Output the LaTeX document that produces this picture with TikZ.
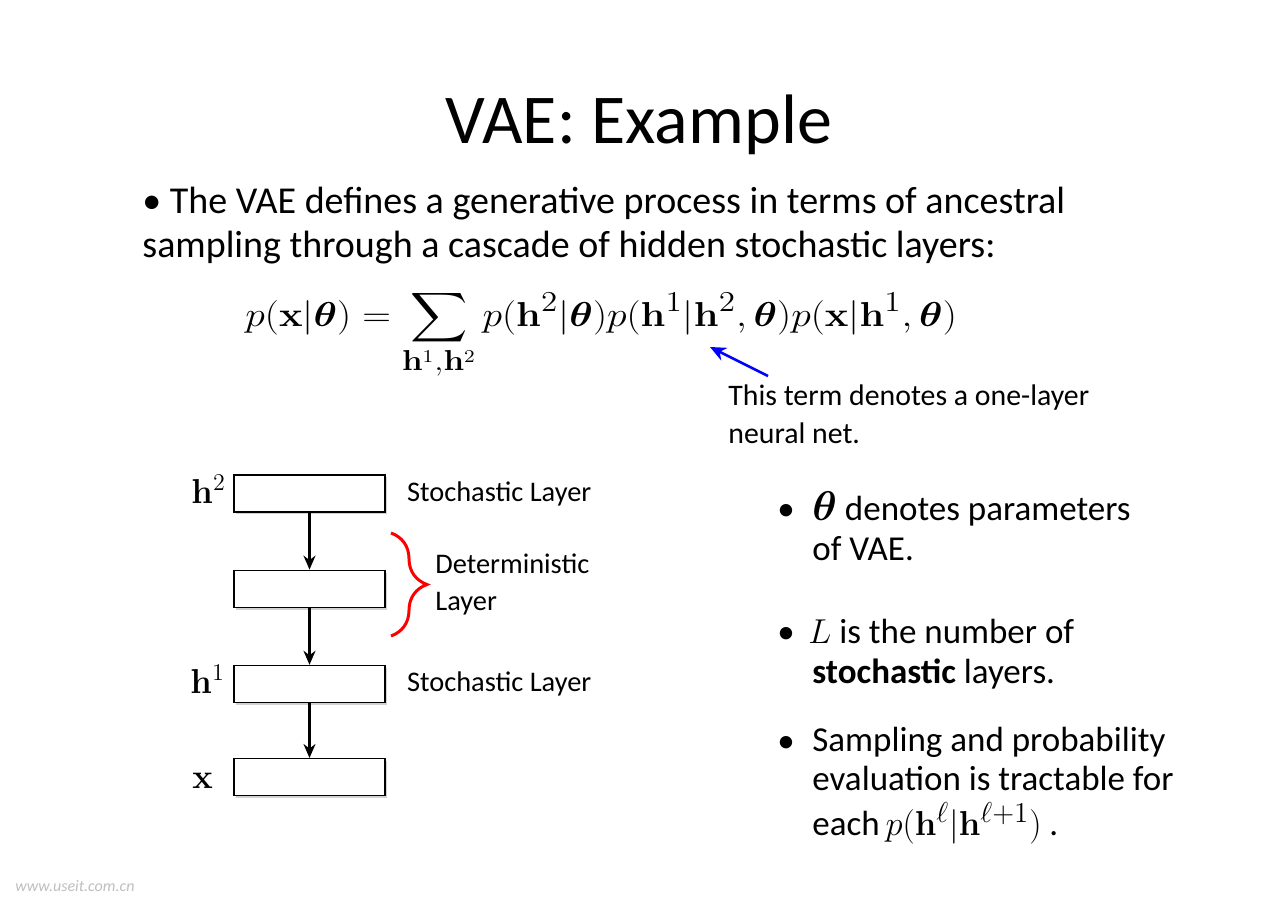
\documentclass[tikz,border=0pt]{standalone}
\usepackage{amsmath,bm}
\usepackage[no-math]{fontspec}
\setmainfont{Carlito}
\usetikzlibrary{positioning,arrows.meta,shadows,decorations.pathreplacing}

\begin{document}
\begin{tikzpicture}[x=0.5pt,y=-0.5pt]
    \tikzstyle{layer}=[draw, line width=0.6pt, fill=white, minimum width=75.5pt, minimum height=18.5pt, inner sep=0pt, drop shadow={shadow xshift=1.2pt, shadow yshift=-1.2pt, fill=black!35}]
    \tikzstyle{flow}=[-{Stealth[length=7pt,width=6pt]}, line width=1.3pt]
    \tikzstyle{lbl}=[font=\fontsize{14.2}{18.5}\selectfont, inner sep=0pt, align=left]
    \tikzstyle{mlbl}=[font=\fontsize{18}{20}\selectfont, inner sep=0pt, anchor=base west]
    \tikzstyle{item}=[font=\fontsize{17.5}{20}\selectfont, inner sep=0pt, align=left, anchor=base west]

    \useasboundingbox (0,0) rectangle (1280,904);
    \fill[white] (0,0) rectangle (1280,904);

    % title and intro
    \node[font=\fontsize{35}{40}\selectfont, anchor=base, inner sep=0pt] (title) at (639,143) {VAE: Example};
    \node[font=\fontsize{19}{22}\selectfont, anchor=base west, align=left, inner sep=0pt] (intro) at (142,257)
        {• The VAE defines a generative process in terms of ancestral\\sampling through a cascade of hidden stochastic layers:};

    % equation
    \node[font=\fontsize{19}{22}\selectfont, anchor=base west, inner sep=0pt] (eq) at (245,326)
        {\scalebox{1.15}[1]{$\displaystyle p(\mathbf{x}|\boldsymbol{\theta}) = \sum_{\mathbf{h}^1,\mathbf{h}^2} p(\mathbf{h}^2|\boldsymbol{\theta})p(\mathbf{h}^1|\mathbf{h}^2,\boldsymbol{\theta})p(\mathbf{x}|\mathbf{h}^1,\boldsymbol{\theta})$}};

    % note on the middle term
    \node[lbl, font=\fontsize{14.9}{19}\selectfont, anchor=base west] (note) at (728,443) {This term denotes a one-layer\\neural net.};
    \coordinate (notetail) at (768,376);
    \coordinate (notetip) at (710,347);
    \draw[-{Stealth[length=8pt,width=7pt]}, blue, line width=1.3pt] (notetail) -- (notetip);

    % layers
    \node[layer] (h2box) at (309.5,493.5) {};
    \node[layer, below=28.5pt of h2box] (detbox) {};
    \node[layer, below=28.5pt of detbox] (h1box) {};
    \node[layer, below=27.5pt of h1box] (xbox) {};

    \draw[flow] (h2box) -- (detbox);
    \draw[flow] (detbox) -- (h1box);
    \draw[flow] (h1box) -- (xbox);

    \node[mlbl] (h2lbl) at (191,503) {$\mathbf{h}^2$};
    \node[mlbl] (h1lbl) at (190,693) {$\mathbf{h}^1$};
    \node[mlbl] (xlbl) at (192,788) {$\mathbf{x}$};

    \node[lbl, right=10.5pt of h2box] (h2txt) {Stochastic Layer};
    \node[lbl, right=10.5pt of h1box] (h1txt) {Stochastic Layer};

    % brace over the deterministic layer
    \coordinate (bracetop) at (391,533);
    \coordinate (bracebot) at (391,636);
    \draw[red, line width=1.5pt, decorate, decoration={brace, amplitude=18pt}] (bracetop) -- (bracebot);
    \node[lbl, anchor=base west] (dettxt) at (435,610) {Deterministic\\Layer};

    % bullets on the right
    \node[item] (dot1) at (777,520) {•};
    \node[item] (thetatxt) at (812,560) {{\fontsize{21}{20}\selectfont$\boldsymbol{\theta}$} denotes parameters\\of VAE.};
    \node[item] (dot2) at (777,643) {•};
    \node[item] (ltxt) at (812,683) {\hspace{-2pt}$L$ is the number of\\\textbf{stochastic} layers.};
    \node[item] (dot3) at (777,752) {•};
    \node[item, font=\fontsize{17.5}{19.6}\selectfont] (samptxt) at (812,835) {Sampling and probability\\evaluation is tractable for\\[2.5pt]each\,{\fontsize{19}{20}\selectfont$p(\mathbf{h}^\ell|\mathbf{h}^{\ell+1})$} .};

    % watermark
    \node[font=\fontsize{8}{8}\selectfont\itshape, text=black!25, anchor=base west, inner sep=0pt] (mark) at (15,891) {www.useit.com.cn};
\end{tikzpicture}
\end{document}
